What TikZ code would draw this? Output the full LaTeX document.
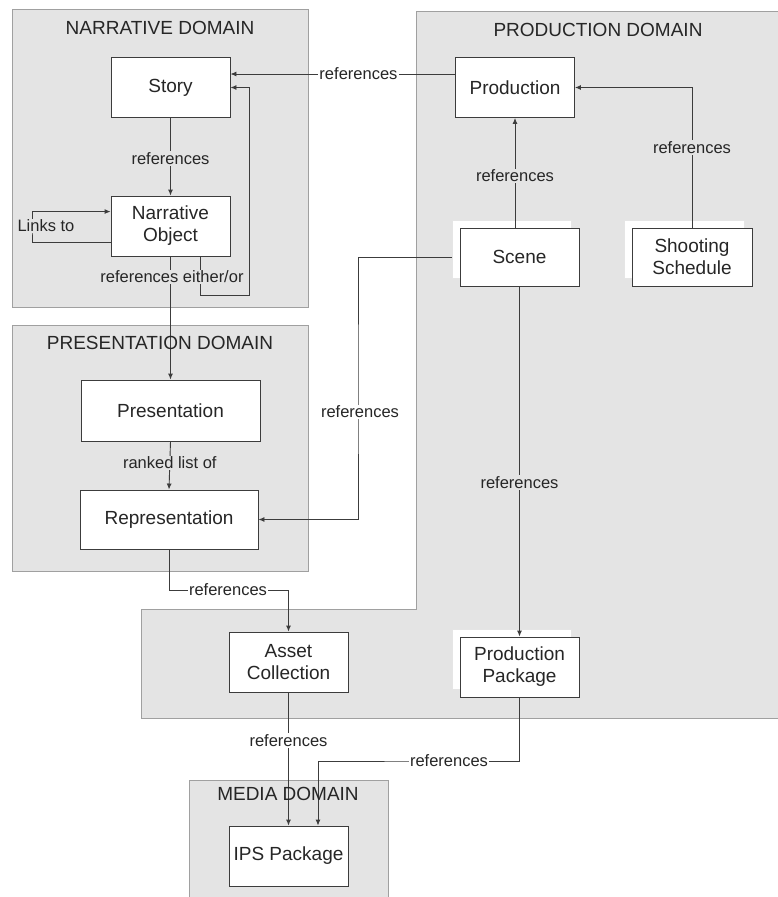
\documentclass[tikz,border=0pt]{standalone}
\usepackage{fontspec}
\setmainfont{Liberation Sans}
\usetikzlibrary{arrows.meta,calc}
\definecolor{dom}{HTML}{E4E4E4}
\definecolor{domline}{HTML}{A0A0A0}
\definecolor{ln}{HTML}{3C3C3C}
\definecolor{txt}{HTML}{262626}
\begin{document}
\begin{tikzpicture}[x=1pt,y=-1pt,
  box/.style={draw=ln,fill=white,line width=0.9pt,minimum width=119pt,minimum height=60pt,
    align=center,inner sep=0pt,text=txt,font=\fontsize{19}{22}\selectfont},
  shadowbox/.style={draw=black!10,fill=white,minimum width=119pt,minimum height=58pt,inner sep=0pt},
  domainarea/.style={fill=dom,draw=domline,line width=0.9pt},
  dtitle/.style={text=txt,font=\fontsize{19}{22}\selectfont,inner sep=0pt},
  lbl/.style={fill=dom,text=txt,inner sep=1.2pt,font=\fontsize{16.5}{18}\selectfont},
  lblw/.style={lbl,fill=white},
  conn/.style={draw=ln,line width=0.9pt},
  arr/.style={conn,-{Latex[length=6pt,width=5pt]}}]
\useasboundingbox (0,0) rectangle (777,897);
% domains
\path[domainarea] (12,9) rectangle (308,307);
\path[domainarea] (12,325) rectangle (308,571);
\path[domainarea] (416,11) -- (782,11) -- (782,718) -- (141,718) -- (141,609) -- (416,609) -- cycle;
\path[domainarea] (189,780) rectangle (388,902);
% boxes
\node[box] (story) at (170.5,87.5) {Story};
\node[box] (no) at (170.5,226) {Narrative\\Object};
\node[box] (prod) at (515,87.5) {Production};
\node[shadowbox] (sceneb) at (511.5,249) {};
\node[box,minimum height=58pt] (scene) at (519.5,257) {Scene};
\node[shadowbox,minimum width=120pt] (shootb) at (684,249) {};
\node[box,minimum width=120pt,minimum height=58pt] (shoot) at (692,257) {Shooting\\Schedule};
\node[box,minimum width=179pt,minimum height=61pt] (pres) at (170.5,410.5) {Presentation};
\node[box,minimum width=178pt,minimum height=59pt] (rep) at (169,519.5) {Representation};
\node[box] (asset) at (288.5,662) {Asset\\Collection};
\node[shadowbox,minimum height=60pt] (ppb) at (511.5,659) {};
\node[box] (pp) at (519.5,667) {Production\\Package};
\node[box] (ips) at (288.5,856) {IPS Package};
% helper coordinates
\coordinate (lk) at (32,227);
\coordinate (lp) at (249,295);
\coordinate (sr) at (358,390);
\coordinate (ra) at (228,590);
\coordinate (pi) at (449,761);
% connectors
\draw[arr] (story) -- node[lbl,pos=0.52] {references} (no);
\draw[arr] ([yshift=14pt]no.south west) -| (lk) |- ([yshift=-16pt]no.north west);
\draw[arr] (no.south) -- (pres.north);
\draw[arr] ([xshift=29.5pt]no.south) |- (lp) |- (story.east);
\draw[arr] ([yshift=13.5pt]prod.west) -- node[lblw,pos=0.43] {references} ([yshift=13.5pt]story.east);
\draw[arr] (prod.south |- scene.north) -- node[lbl,pos=0.47] {references} (prod.south);
\draw[arr] (shoot.north) |- node[lbl,pos=0.285] {references} (prod.east);
\draw[arr] (sceneb.west |- scene.west) -| (sr) |- (rep.east);
\draw[arr] (scene.south) -- node[lbl,pos=0.56] {references} (pp.north);
\draw[arr] (pres.south) -- node[lbl,pos=0.45] {ranked list of} (rep.north);
\draw[arr] (rep.south) |- (ra) -| (asset.north);
\draw[arr] (asset.south) -- node[lblw,pos=0.36] {references} (ips.north);
\draw[arr] (pp.south) |- (pi) -| ([xshift=29.5pt]ips.north);
% labels
\node[lbl] (llinks) at (46,226) {Links to};
\node[lbl] (leo) at (172,277) {references either/or};
\node[lblw] (lsr) at (360,412) {references};
\node[lblw] (lra) at (ra) {references};
\node[lblw] (lpi) at (pi) {references};
% titles
\node[dtitle] (tn) at (160,28) {NARRATIVE DOMAIN};
\node[dtitle] (tp) at (598,30) {PRODUCTION DOMAIN};
\node[dtitle] (tpr) at (160,343) {PRESENTATION DOMAIN};
\node[dtitle] (tm) at (288,794) {MEDIA DOMAIN};
\end{tikzpicture}
\end{document}
